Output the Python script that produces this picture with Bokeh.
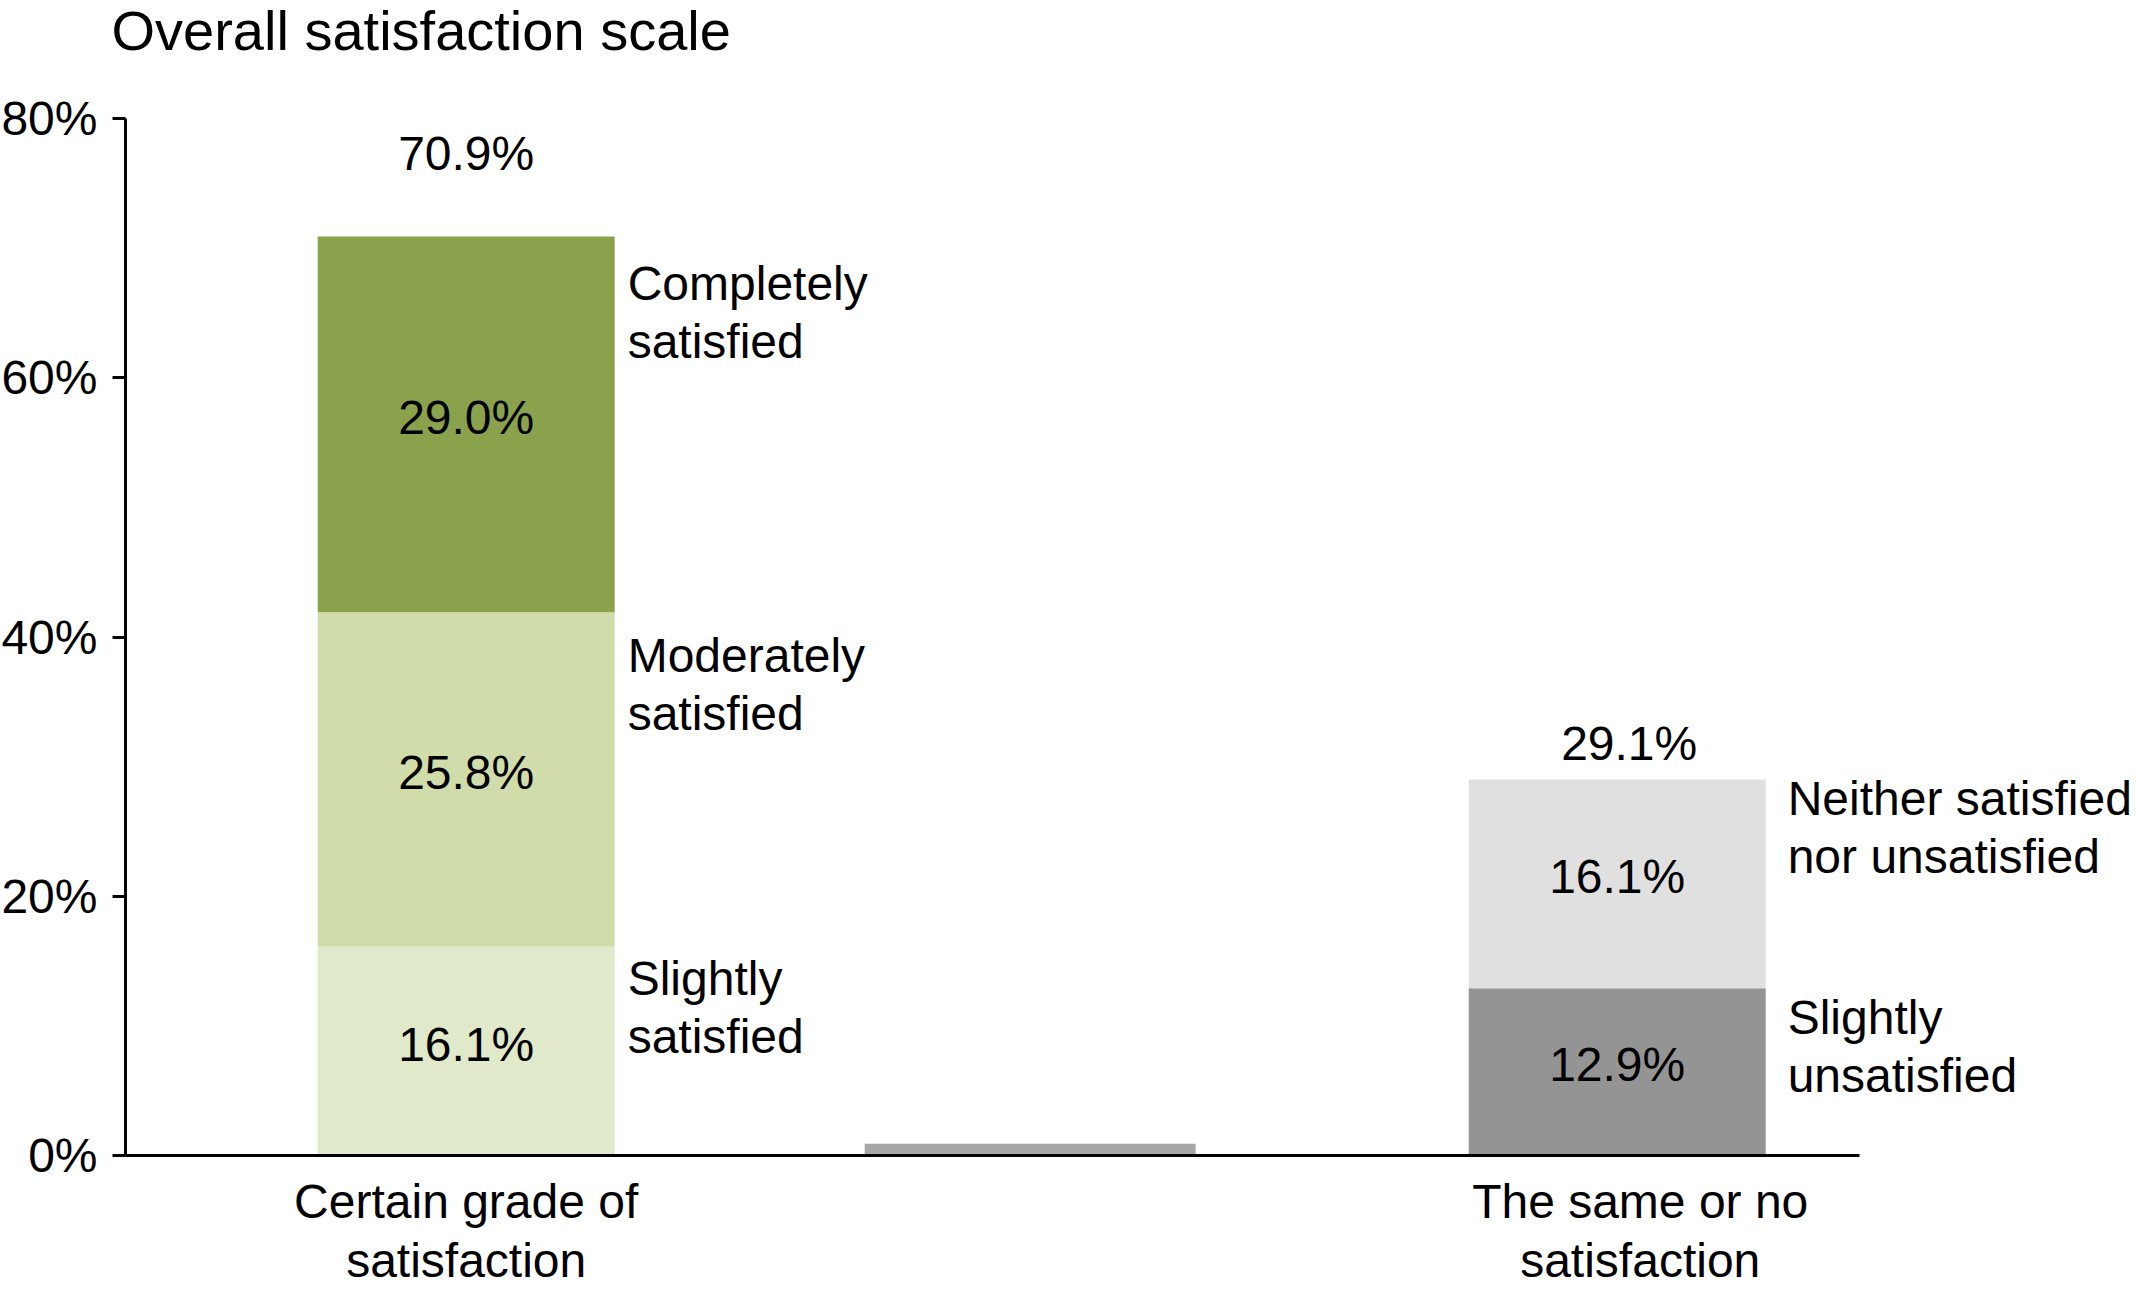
import numpy as np
from bokeh.plotting import figure
from bokeh.models import (ColumnDataSource, LabelSet, Label, FixedTicker,
                          PrintfTickFormatter, Range1d, CustomJSTickFormatter)
from bokeh.core.properties import value
from bokeh.embed import file_html
from bokeh.resources import INLINE

# ---------------- data ----------------
title_text = "Overall satisfaction scale"
group_labels = ["Certain grade of\nsatisfaction", "The same or no\nsatisfaction"]

sat_names = ["Slightly\nsatisfied", "Moderately\nsatisfied", "Completely\nsatisfied"]
sat_values = [16.1, 25.8, 29.0]
sat_total = 70.9

unsat_names = ["Slightly\nunsatisfied", "Neither satisfied\nnor unsatisfied"]
unsat_values = [12.9, 16.1]
unsat_total = 29.1

divider_value = 0.9
y_ticks = [0, 20, 40, 60, 80]

# ---------------- styles / layout ----------------
sat_colors = ["#e0e9c9", "#d0ddab", "#8ba24c"]
unsat_colors = ["#949494", "#e0e0e0"]
divider_color = "#a6a6a6"
FONT = "Liberation Sans"
FS = "48px"

W, H = 2136, 1302
AXIS_LEFT_PX = 125               # canvas x of the y axis
AXIS_TOP_PX = 118                # canvas y of 80%
AXIS_BOTTOM_PX = 1155            # canvas y of 0%
px_x = 575.5                     # pixels per x unit
X_AXIS0 = 0.408                  # data x of the y axis
X0 = X_AXIS0 - AXIS_LEFT_PX / px_x
X1 = X0 + W / px_x
AXIS_X1 = X_AXIS0 + 1734 / px_x  # visible end of the x axis line
Y_AXIS1 = 80
px_y = (AXIS_BOTTOM_PX - AXIS_TOP_PX) / Y_AXIS1
Y0 = -(H - AXIS_BOTTOM_PX) / px_y
Y1 = Y0 + H / px_y

group_x = [1.0, 3.0]
label_tick_x = [1.0, 3.04]
bar_w = 0.516
divider_x = 1.98
divider_w = 0.575

name_gap_px = [13, 22]             # gap from bar edge to segment name
sat_name_dy_px = [61, 72, 76]      # name block centre below segment top
unsat_name_dy_px = [58, 48]
total_dy_px = [83, 35]             # total label centre above bar top
total_dx_px = [0, 12]
value_lift_px = 7
title_left_px, title_mid_px = 111, 30


def stack_rows(xc, vals, names, colors, gap_px, dy_px):
    tops = np.cumsum(vals)
    bottoms = tops - np.array(vals)
    return dict(
        x=[xc] * len(vals),
        bottom=list(bottoms),
        top=list(tops),
        color=colors,
        mid=list((bottoms + tops) / 2 + value_lift_px / px_y),
        vlabel=["%.1f%%" % v for v in vals],
        name=names,
        name_x=[xc + bar_w / 2 + gap_px / px_x] * len(vals),
        name_y=[t - d / px_y for t, d in zip(tops, dy_px)],
    )


r1 = stack_rows(group_x[0], sat_values, sat_names, sat_colors, name_gap_px[0], sat_name_dy_px)
r2 = stack_rows(group_x[1], unsat_values, unsat_names, unsat_colors, name_gap_px[1], unsat_name_dy_px)
seg = {k: r1[k] + r2[k] for k in r1}
seg_src = ColumnDataSource(seg)

totals = [sat_total, unsat_total]
tot_src = ColumnDataSource(dict(
    x=[gx + dx / px_x for gx, dx in zip(group_x, total_dx_px)],
    y=[t + d / px_y for t, d in zip(totals, total_dy_px)],
    text=["%.1f%%" % t for t in totals],
))

p = figure(width=W, height=H, output_backend="svg", toolbar_location=None,
           x_range=Range1d(X0, X1), y_range=Range1d(Y0, Y1),
           min_border_left=0, min_border_right=0,
           min_border_top=0, min_border_bottom=0)
p.outline_line_color = None
p.xgrid.visible = False
p.ygrid.visible = False
p.background_fill_color = "white"
p.border_fill_color = "white"

# title
p.add_layout(Label(x=X0 + title_left_px / px_x, y=Y1 - title_mid_px / px_y,
                   text=title_text, text_font=FONT, text_font_size="56px",
                   text_color="black", text_align="left", text_baseline="middle"))

# bars
p.vbar(x="x", bottom="bottom", top="top", width=bar_w, color="color",
       line_color=None, source=seg_src)
p.vbar(x=[divider_x], bottom=[0], top=[divider_value], width=divider_w,
       color=divider_color, line_color=None)

# value labels inside segments
p.add_layout(LabelSet(x="x", y="mid", text="vlabel", source=seg_src,
                      text_font=value(FONT), text_font_size=FS, text_color="black",
                      text_align="center", text_baseline="middle"))
# segment names
p.add_layout(LabelSet(x="name_x", y="name_y", text="name", source=seg_src,
                      text_font=value(FONT), text_font_size=FS, text_color="black",
                      text_align="left", text_baseline="middle",
                      text_line_height=1.1))
# totals
p.add_layout(LabelSet(x="x", y="y", text="text", source=tot_src,
                      text_font=value(FONT), text_font_size=FS, text_color="black",
                      text_align="center", text_baseline="middle"))

# axes
ya = p.yaxis[0]
ya.fixed_location = X_AXIS0
ya.bounds = (0, Y_AXIS1)
ya.ticker = FixedTicker(ticks=y_ticks)
ya.formatter = PrintfTickFormatter(format="%d%%")
ya.major_tick_out = 13
ya.major_tick_in = 0
ya.minor_tick_out = 0
ya.minor_tick_in = 0
ya.axis_line_width = 3
ya.major_tick_line_width = 3
ya.axis_line_color = "black"
ya.major_tick_line_color = "black"
ya.major_label_text_font = FONT
ya.major_label_text_font_size = FS
ya.major_label_text_color = "black"
ya.major_label_standoff = 15

xa = p.xaxis[0]
xa.fixed_location = 0
xa.bounds = (X_AXIS0, AXIS_X1)
xa.ticker = FixedTicker(ticks=label_tick_x)
xa.formatter = CustomJSTickFormatter(args=dict(labels=group_labels),
                                     code="return labels[index];")
xa.major_tick_out = 0
xa.major_tick_in = 0
xa.minor_tick_out = 0
xa.minor_tick_in = 0
xa.axis_line_width = 3
xa.axis_line_color = "black"
xa.major_label_text_font = FONT
xa.major_label_text_font_size = FS
xa.major_label_text_color = "black"
xa.major_label_standoff = 19
xa.major_label_text_line_height = 1.12

open("out.html", "w").write(file_html(p, INLINE))
